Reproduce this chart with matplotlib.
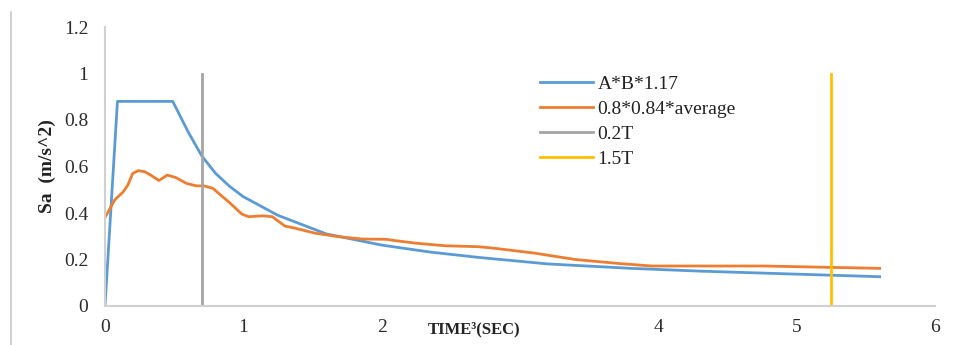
import matplotlib
matplotlib.use("Agg")
import matplotlib.pyplot as plt
from matplotlib.lines import Line2D

# ---- data ----
blue_t = [0, 0.09, 0.49, 0.6, 0.7, 0.8, 0.9, 1.0, 1.25, 1.6, 2.0, 2.35, 2.7, 3.2, 3.8, 4.3, 5.0, 5.6]
blue_v = [0, 0.88, 0.88, 0.75, 0.645, 0.57, 0.515, 0.47, 0.39, 0.31, 0.262, 0.232, 0.209, 0.181, 0.162, 0.15, 0.137, 0.126]

orange_t = [0, 0.07, 0.13, 0.165, 0.2, 0.24, 0.285, 0.33, 0.39, 0.45, 0.51, 0.59, 0.66, 0.72, 0.78,
            0.85, 0.9, 0.99, 1.04, 1.14, 1.21, 1.30, 1.38, 1.52, 1.69, 1.86, 2.03, 2.10, 2.25, 2.46,
            2.70, 2.82, 3.11, 3.40, 3.71, 3.95, 4.3, 4.77, 5.25, 5.6]
orange_v = [0.38, 0.456, 0.49, 0.52, 0.57, 0.582, 0.578, 0.563, 0.54, 0.563, 0.553, 0.527, 0.517, 0.516, 0.506,
            0.47, 0.445, 0.395, 0.384, 0.388, 0.384, 0.344, 0.334, 0.313, 0.298, 0.288, 0.287, 0.281, 0.27, 0.259,
            0.255, 0.248, 0.227, 0.20, 0.183, 0.172, 0.172, 0.172, 0.166, 0.162]

t02 = 0.7
t15 = 5.25
vline_top = 1.0

labels = ["A*B*1.17", "0.8*0.84*average", "0.2T", "1.5T"]
xticks = [0, 1, 2, 3, 4, 5, 6]
xticklabels = ["0", "1", "2", "", "4", "5", "6"]
yticks = [0, 0.2, 0.4, 0.6, 0.8, 1.0, 1.2]
yticklabels = ["0", "0.2", "0.4", "0.6", "0.8", "1", "1.2"]

# ---- style ----
plt.rcParams['font.family'] = ['Liberation Serif', 'DejaVu Serif']
c_blue, c_orange, c_gray, c_yellow = "#5B9BD5", "#ED7D31", "#A5A5A5", "#FFC000"

fig = plt.figure(figsize=(9.6, 3.45), dpi=100)
ax = fig.add_axes([105/960, 39/345, 830/960, 279/345])

lw = 2.0
ax.plot(blue_t, blue_v, color=c_blue, lw=lw, label=labels[0])
ax.plot(orange_t, orange_v, color=c_orange, lw=lw, label=labels[1])
ax.plot([t02, t02], [0, vline_top], color=c_gray, lw=lw, label=labels[2])
ax.plot([t15, t15], [0, vline_top], color=c_yellow, lw=lw, label=labels[3])

ax.set_xlim(0, 6)
ax.set_ylim(0, 1.2)
ax.set_xticks(xticks)
ax.set_xticklabels(xticklabels)
ax.set_yticks(yticks)
ax.set_yticklabels(yticklabels)
ax.tick_params(length=0, labelsize=14, colors="#2b2b2b", pad=12)
ax.tick_params(axis='x', pad=9)

for s in ["top", "right"]:
    ax.spines[s].set_visible(False)
for s in ["left", "bottom"]:
    ax.spines[s].set_color("#D0D0D0")
    ax.spines[s].set_linewidth(1.5)

ax.set_ylabel("Sa  (m/s^2)", fontsize=14, fontweight="bold", color="#222222", labelpad=6)
fig.text(474/960, 1 - 329/345, "TIME\u00b3(SEC)", fontsize=12, fontweight="bold",
         color="#222222", ha="center", va="center")

leg = ax.legend(loc="upper left", bbox_to_anchor=(435/830, 1 - 48/279), frameon=False,
                fontsize=14, handlelength=2.75, handletextpad=0.2, labelspacing=0.38,
                borderaxespad=0, borderpad=0)
for t in leg.get_texts():
    t.set_color("#222222")

# chart-area frame line on the left
fig.add_artist(Line2D([11/960, 11/960], [0, 1 - 12/345], color="#C8C8C8", lw=1.2,
                      transform=fig.transFigure))

fig.savefig("out.png", dpi=100)
